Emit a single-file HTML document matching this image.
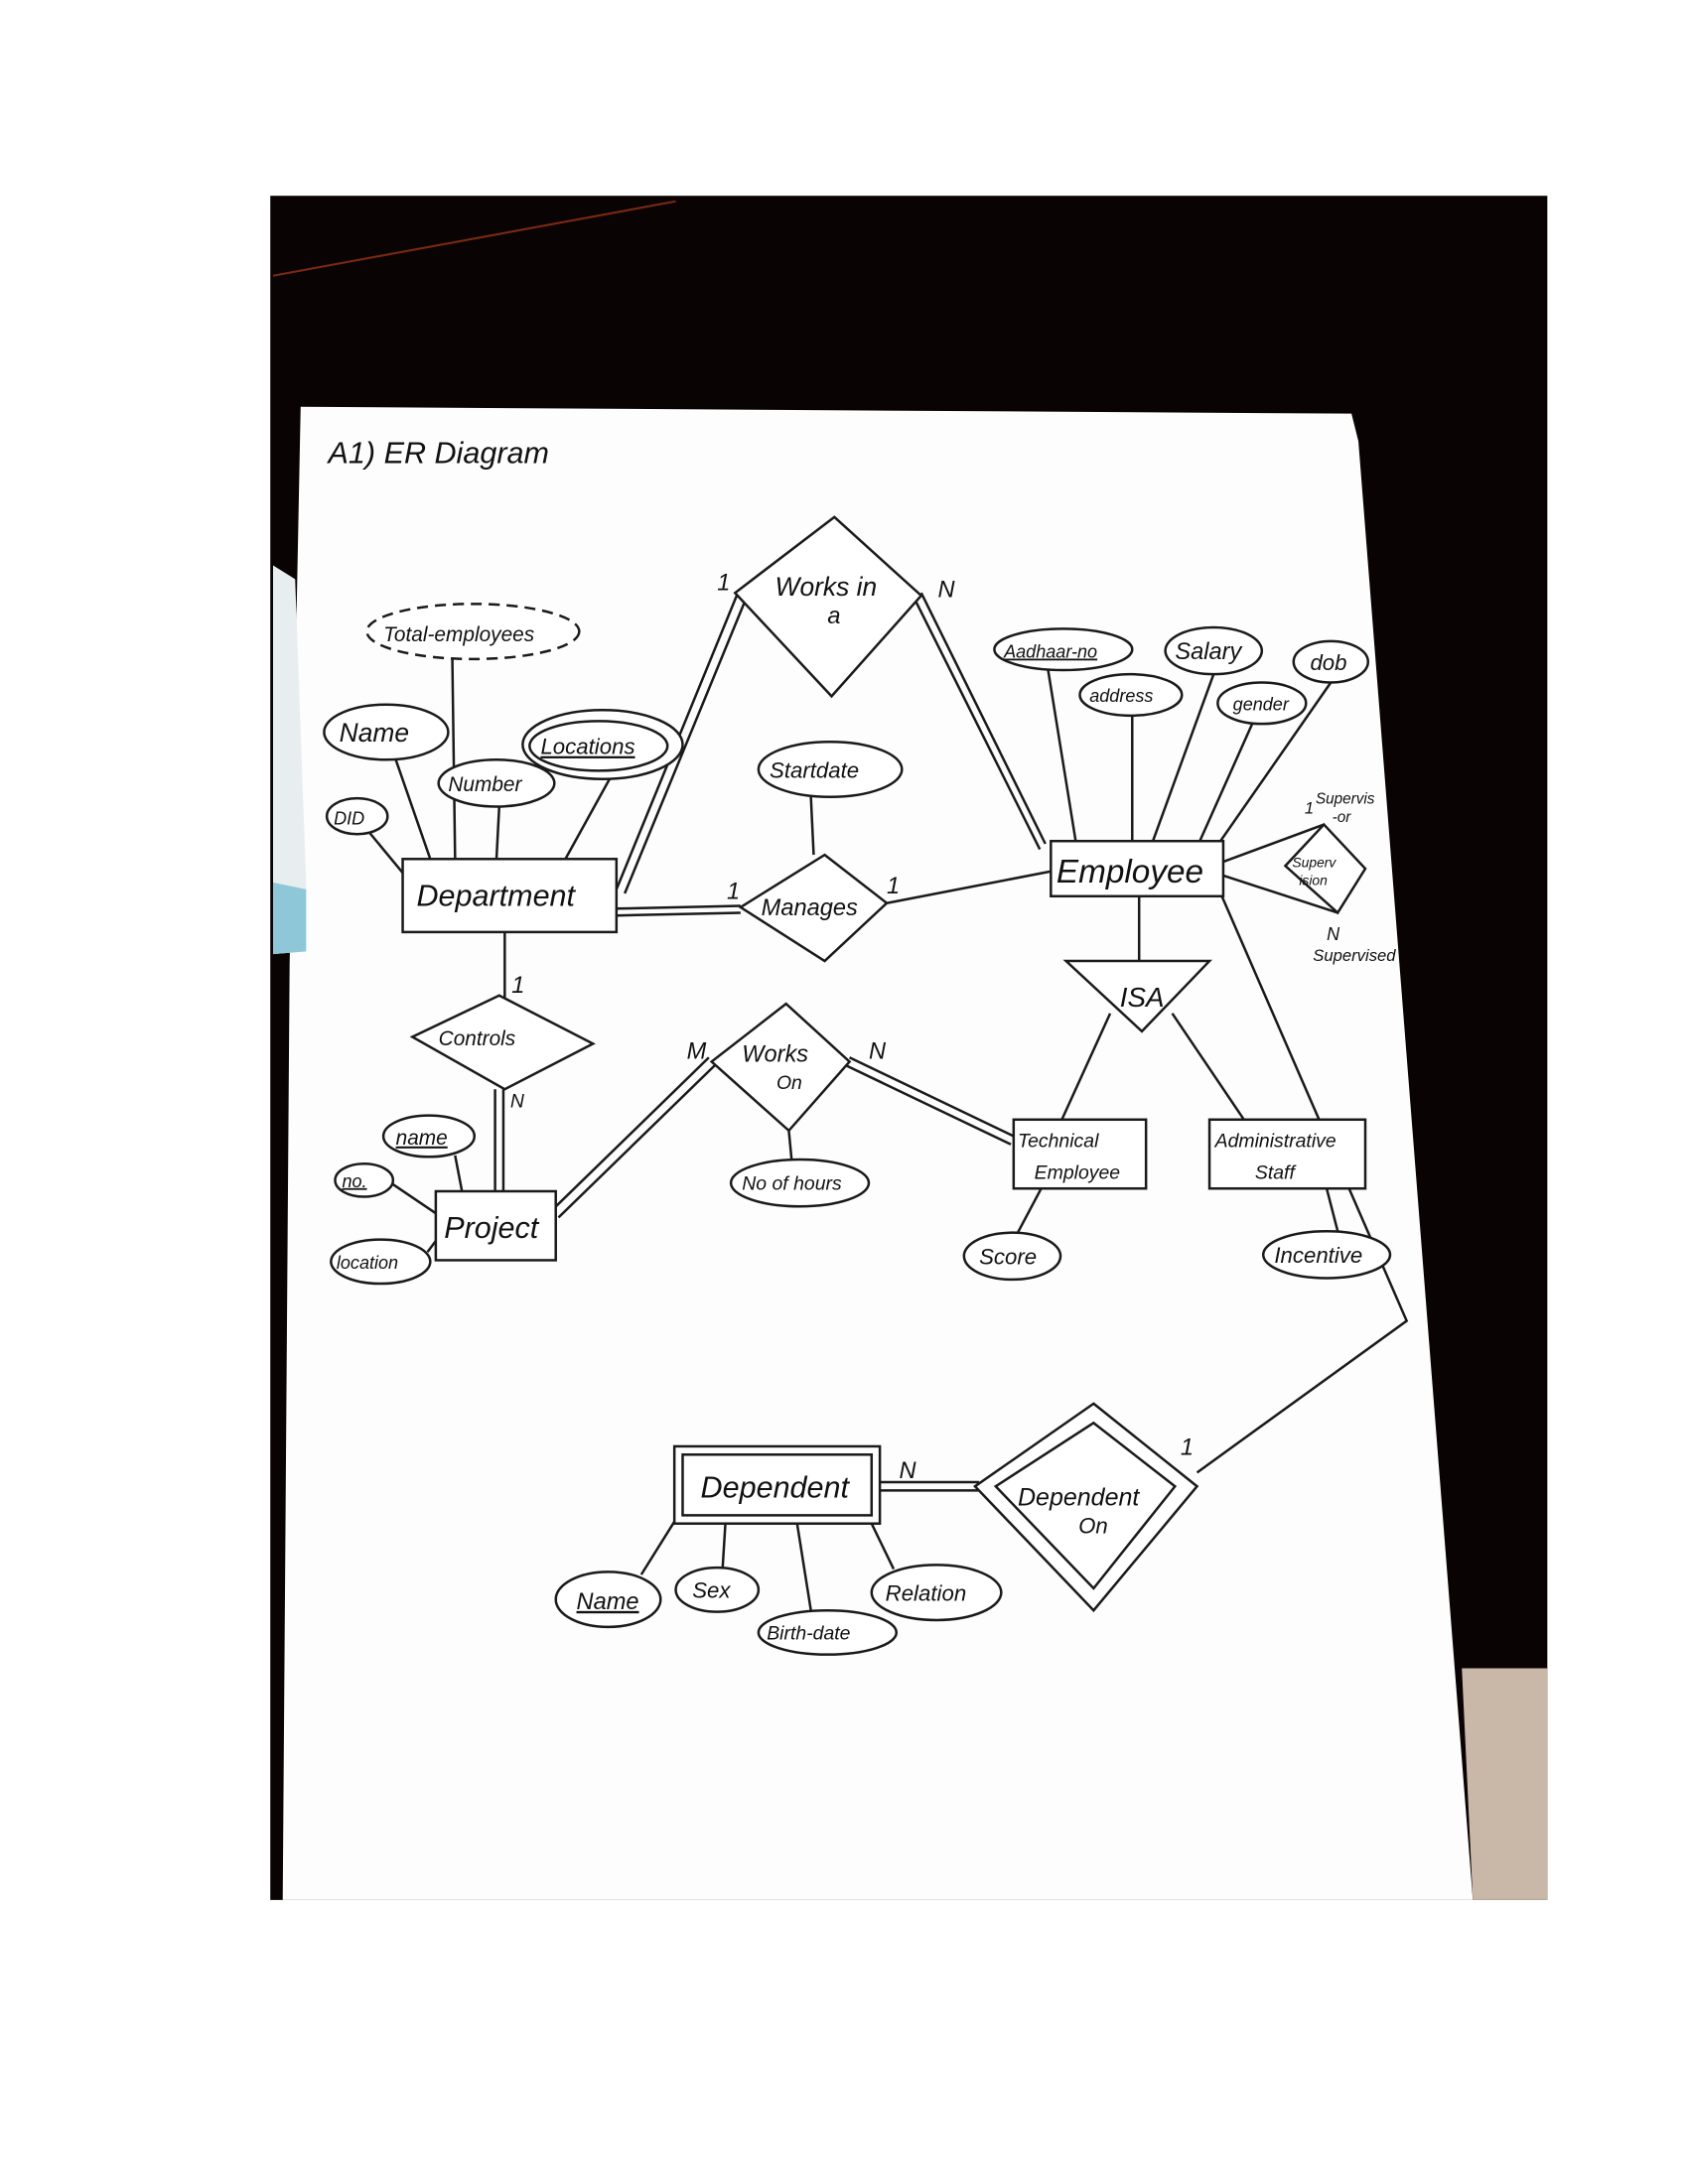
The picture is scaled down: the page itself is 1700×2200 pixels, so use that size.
<!DOCTYPE html>
<html><head><meta charset="utf-8"><style>
html,body{margin:0;padding:0;background:#fff;}
svg{display:block;}
text{font-family:"Liberation Sans",sans-serif;font-style:italic;fill:#111;}
</style></head><body>
<svg width="1700" height="2200" viewBox="0 0 1224 1584" xmlns="http://www.w3.org/2000/svg">
<rect width="1224" height="1584" fill="#fff"/>
<rect x="196" y="142" width="926" height="1236" fill="#0a0303"/>
<line x1="198" y1="200" x2="490" y2="146" stroke="#7a2a10" stroke-width="1.5"/>
<polygon points="218,295 980,300 985,320 1068,1378 205,1378 210,700" fill="#fdfdfd"/>
<polygon points="198,410 214,420 222,640 222,690 198,692" fill="#e8eef0"/>
<polygon points="198,640 222,645 222,690 198,692" fill="#8ec8d8"/>
<polygon points="1060,1210 1122,1210 1122,1378 1068,1378" fill="#c9b8a8"/>
<g fill="none" stroke="#1a1a1a" stroke-width="1.8">
<line x1="447" y1="645" x2="535" y2="430"/><line x1="453" y1="648" x2="541" y2="434"/>
<line x1="668" y1="430" x2="758" y2="612"/><line x1="664" y1="436" x2="754" y2="616"/>
<line x1="447" y1="659" x2="537" y2="657"/><line x1="447" y1="664" x2="537" y2="662"/>
<line x1="643" y1="655" x2="762" y2="632"/>
<line x1="588" y1="578" x2="590" y2="620"/>
<line x1="328" y1="478" x2="330" y2="623"/>
<line x1="287" y1="551" x2="312" y2="623"/>
<line x1="362" y1="585" x2="360" y2="623"/>
<line x1="442" y1="565" x2="410" y2="623"/>
<line x1="268" y1="604" x2="292" y2="633"/>
<line x1="366" y1="676" x2="366" y2="735"/>
<line x1="359" y1="790" x2="359" y2="864"/><line x1="365" y1="790" x2="365" y2="864"/>
<line x1="400" y1="878" x2="514" y2="767"/><line x1="405" y1="883" x2="519" y2="772"/>
<line x1="616" y1="767" x2="735" y2="824"/><line x1="614" y1="773" x2="733" y2="830"/>
<line x1="572" y1="820" x2="574" y2="841"/>
<line x1="330" y1="838" x2="335" y2="864"/>
<line x1="285" y1="859" x2="316" y2="880"/>
<line x1="310" y1="908" x2="316" y2="900"/>
<line x1="760" y1="486" x2="780" y2="610"/>
<line x1="821" y1="519" x2="821" y2="610"/>
<line x1="880" y1="489" x2="836" y2="610"/>
<line x1="908" y1="525" x2="870" y2="610"/>
<line x1="965" y1="495" x2="885" y2="610"/>
<line x1="887" y1="625" x2="960" y2="598"/>
<line x1="887" y1="635" x2="970" y2="662"/>
<line x1="826" y1="650" x2="826" y2="697"/>
<line x1="805" y1="735" x2="770" y2="812"/>
<line x1="850" y1="735" x2="902" y2="812"/>
<line x1="755" y1="862" x2="738" y2="894"/>
<line x1="962" y1="862" x2="970" y2="893"/>
<polyline points="886,650 1020,958 868,1068"/>
<line x1="638" y1="1075" x2="710" y2="1075"/><line x1="638" y1="1081" x2="710" y2="1081"/>
<line x1="490" y1="1102" x2="465" y2="1142"/>
<line x1="526" y1="1105" x2="524" y2="1137"/>
<line x1="578" y1="1105" x2="588" y2="1168"/>
<line x1="632" y1="1105" x2="648" y2="1138"/>
<polygon points="605,375 668,432 603,505 533,430" fill="#fff"/>
<ellipse cx="343" cy="458" rx="77" ry="20" stroke-dasharray="8,5" fill="#fff"/>
<ellipse cx="280" cy="531" rx="45" ry="20" fill="#fff"/>
<ellipse cx="437" cy="540" rx="58" ry="25" fill="#fff"/>
<ellipse cx="434" cy="541" rx="50" ry="18"/>
<ellipse cx="360" cy="568" rx="42" ry="17" fill="#fff"/>
<ellipse cx="259" cy="592" rx="22" ry="13" fill="#fff"/>
<rect x="292" y="623" width="155" height="53" fill="#fff"/>
<ellipse cx="602" cy="558" rx="52" ry="20" fill="#fff"/>
<polygon points="598,620 643,655 598,697 537,658" fill="#fff"/>
<rect x="762" y="610" width="125" height="40" fill="#fff"/>
<ellipse cx="771" cy="471" rx="50" ry="15" fill="#fff"/>
<ellipse cx="880" cy="472" rx="35" ry="17" fill="#fff"/>
<ellipse cx="965" cy="480" rx="27" ry="15" fill="#fff"/>
<ellipse cx="820" cy="504" rx="37" ry="15" fill="#fff"/>
<ellipse cx="915" cy="510" rx="32" ry="15" fill="#fff"/>
<polygon points="960,598 990,630 970,662 932,628" fill="#fff"/>
<polygon points="773,697 877,697 828,748" fill="#fff"/>
<polygon points="362,722 430,757 366,790 299,752" fill="#fff"/>
<polygon points="570,728 616,770 572,820 516,770" fill="#fff"/>
<ellipse cx="580" cy="858" rx="50" ry="17" fill="#fff"/>
<rect x="735" y="812" width="96" height="50" fill="#fff"/>
<rect x="877" y="812" width="113" height="50" fill="#fff"/>
<ellipse cx="734" cy="911" rx="35" ry="17" fill="#fff"/>
<ellipse cx="962" cy="910" rx="46" ry="17" fill="#fff"/>
<ellipse cx="311" cy="824" rx="33" ry="15" fill="#fff"/>
<ellipse cx="264" cy="856" rx="21" ry="12" fill="#fff"/>
<ellipse cx="276" cy="915" rx="36" ry="16" fill="#fff"/>
<rect x="316" y="864" width="87" height="50" fill="#fff"/>
<rect x="489" y="1049" width="149" height="56" fill="#fff"/>
<rect x="495" y="1055" width="137" height="44"/>
<polygon points="793,1018 868,1078 793,1168 707,1078" fill="#fff"/>
<polygon points="793,1032 852,1078 793,1152 722,1078"/>
<ellipse cx="441" cy="1160" rx="38" ry="20" fill="#fff"/>
<ellipse cx="520" cy="1153" rx="30" ry="16" fill="#fff"/>
<ellipse cx="600" cy="1184" rx="50" ry="16" fill="#fff"/>
<ellipse cx="679" cy="1155" rx="47" ry="20" fill="#fff"/>
</g>
<g font-size="17">
<text x="238" y="336" font-size="22">A1) ER Diagram</text>
<text x="562" y="432" font-size="19">Works in</text><text x="600" y="452" font-size="17">a</text>
<text x="520" y="428">1</text><text x="680" y="433">N</text>
<text x="278" y="465" font-size="15">Total-employees</text>
<text x="246" y="538" font-size="19">Name</text>
<text x="392" y="547" font-size="16" text-decoration="underline">Locations</text>
<text x="325" y="574" font-size="15">Number</text>
<text x="242" y="598" font-size="13">DID</text>
<text x="302" y="657" font-size="22">Department</text>
<text x="558" y="564" font-size="16">Startdate</text>
<text x="552" y="664" font-size="17">Manages</text>
<text x="527" y="652">1</text><text x="643" y="648">1</text>
<text x="766" y="640" font-size="24">Employee</text>
<text x="728" y="477" font-size="13" text-decoration="underline">Aadhaar-no</text>
<text x="852" y="478" font-size="17">Salary</text>
<text x="950" y="486" font-size="16">dob</text>
<text x="790" y="509" font-size="13">address</text>
<text x="894" y="515" font-size="13">gender</text>
<text x="937" y="629" font-size="10">Superv</text><text x="942" y="642" font-size="10">ision</text>
<text x="954" y="583" font-size="11">Supervis</text><text x="966" y="596" font-size="11">-or</text>
<text x="946" y="590" font-size="12">1</text>
<text x="962" y="682" font-size="13">N</text><text x="952" y="697" font-size="12">Supervised</text>
<text x="812" y="730" font-size="20">ISA</text>
<text x="318" y="758" font-size="15">Controls</text>
<text x="371" y="720">1</text><text x="370" y="803" font-size="14">N</text>
<text x="538" y="770" font-size="17">Works</text><text x="563" y="790" font-size="14">On</text>
<text x="498" y="768">M</text><text x="630" y="768">N</text>
<text x="538" y="863" font-size="14">No of hours</text>
<text x="738" y="832" font-size="14">Technical</text><text x="750" y="855" font-size="14">Employee</text>
<text x="881" y="832" font-size="14">Administrative</text><text x="910" y="855" font-size="14">Staff</text>
<text x="710" y="917" font-size="16">Score</text>
<text x="924" y="916" font-size="16">Incentive</text>
<text x="287" y="830" font-size="15" text-decoration="underline">name</text>
<text x="248" y="861" font-size="13" text-decoration="underline">no.</text>
<text x="244" y="920" font-size="13">location</text>
<text x="322" y="898" font-size="22">Project</text>
<text x="508" y="1086" font-size="22">Dependent</text>
<text x="652" y="1072">N</text>
<text x="738" y="1092" font-size="18">Dependent</text><text x="782" y="1112" font-size="16">On</text>
<text x="856" y="1055">1</text>
<text x="418" y="1167" font-size="17" text-decoration="underline">Name</text>
<text x="502" y="1159" font-size="16">Sex</text>
<text x="556" y="1189" font-size="14">Birth-date</text>
<text x="642" y="1161" font-size="16">Relation</text>
</g>
</svg>
</body></html>
